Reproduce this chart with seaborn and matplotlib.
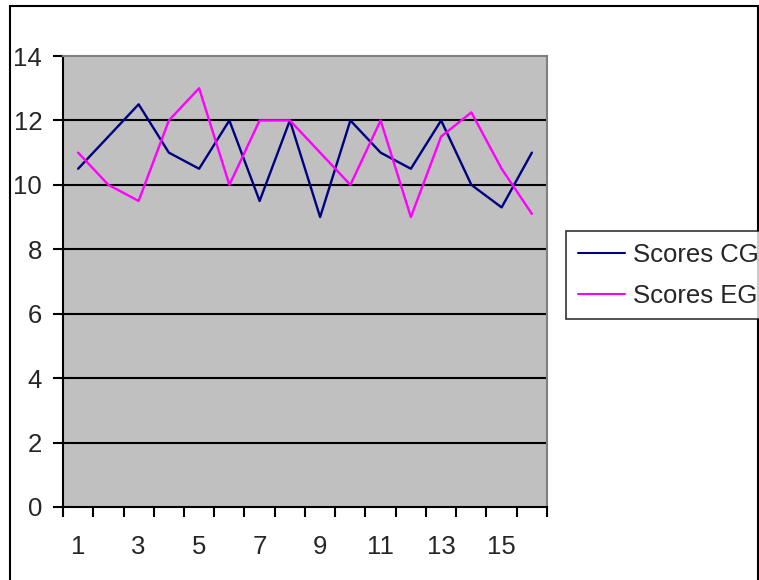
import numpy as np
import pandas as pd
import seaborn as sns
import matplotlib.pyplot as plt
from matplotlib.patches import Rectangle

# data
trial = list(range(1, 17))
scores_cg = [10.5, 11.5, 12.5, 11, 10.5, 12, 9.5, 12, 9, 12, 11, 10.5, 12, 10, 9.3, 11]
scores_eg = [11, 10, 9.5, 12, 13, 10, 12, 12, 11, 10, 12, 9, 11.5, 12.25, 10.5, 9.1]
xlabels = ["1", "3", "5", "7", "9", "11", "13", "15"]

df = pd.DataFrame({
    "trial": trial * 2,
    "score": scores_cg + scores_eg,
    "group": ["Scores CG"] * 16 + ["Scores EG"] * 16,
})

sns.set_style("white")
plt.rcParams["font.family"] = ["Liberation Sans", "DejaVu Sans"]

fig = plt.figure(figsize=(7.59, 5.80), dpi=100)
ax = fig.add_axes([63 / 759, 1 - 507 / 580, 484 / 759, 451 / 580])
ax.set_facecolor("#C0C0C0")

sns.lineplot(data=df, x="trial", y="score", hue="group",
             palette={"Scores CG": "#000080", "Scores EG": "#FF00FF"},
             linewidth=1.7, ax=ax, legend=False)

ax.set_xlim(0.5, 16.5)
ax.set_ylim(0, 14)
ax.set_yticks(np.arange(0, 15, 2))
for y in range(2, 14, 2):
    ax.axhline(y, color="black", lw=1.5, zorder=1)

# category axis: ticks between categories, labels on every other category
ax.set_xticks(np.arange(0.5, 17, 1))
ax.set_xticklabels([])
ax.set_xticks(trial[::2], minor=True)
ax.set_xticklabels(xlabels, minor=True)
ax.tick_params(axis="x", which="major", bottom=True, direction="out",
               length=7, width=1.5, color="black")
ax.tick_params(axis="x", which="minor", bottom=True, length=0, pad=20, labelsize=18.5)
ax.tick_params(axis="y", left=True, direction="out", length=7, width=1.5,
               color="black", pad=8, labelsize=18.5)
ax.set_xlabel("")
ax.set_ylabel("")

for side in ["left", "bottom"]:
    ax.spines[side].set_color("black")
    ax.spines[side].set_linewidth(1.5)
for side in ["top", "right"]:
    ax.spines[side].set_color("#808080")
    ax.spines[side].set_linewidth(1.5)

handles = [plt.Line2D([], [], color="#000080", lw=1.5),
           plt.Line2D([], [], color="#FF00FF", lw=1.5)]
leg = fig.legend(handles, ["Scores CG", "Scores EG"], loc="upper left",
                 bbox_to_anchor=(566 / 759, 1 - 231 / 580), fontsize=18.5,
                 frameon=True, fancybox=False, handlelength=1.85,
                 handletextpad=0.3, labelspacing=0.67, borderpad=0.45,
                 borderaxespad=0)
leg.get_frame().set_edgecolor("black")
leg.get_frame().set_linewidth(1.2)

# chart area border
fig.patches.append(Rectangle((10 / 759, -0.05), 748 / 759, 1.05 - 6 / 580,
                             transform=fig.transFigure, fill=False,
                             edgecolor="black", lw=1.5))

plt.savefig("out.png", dpi=100)
